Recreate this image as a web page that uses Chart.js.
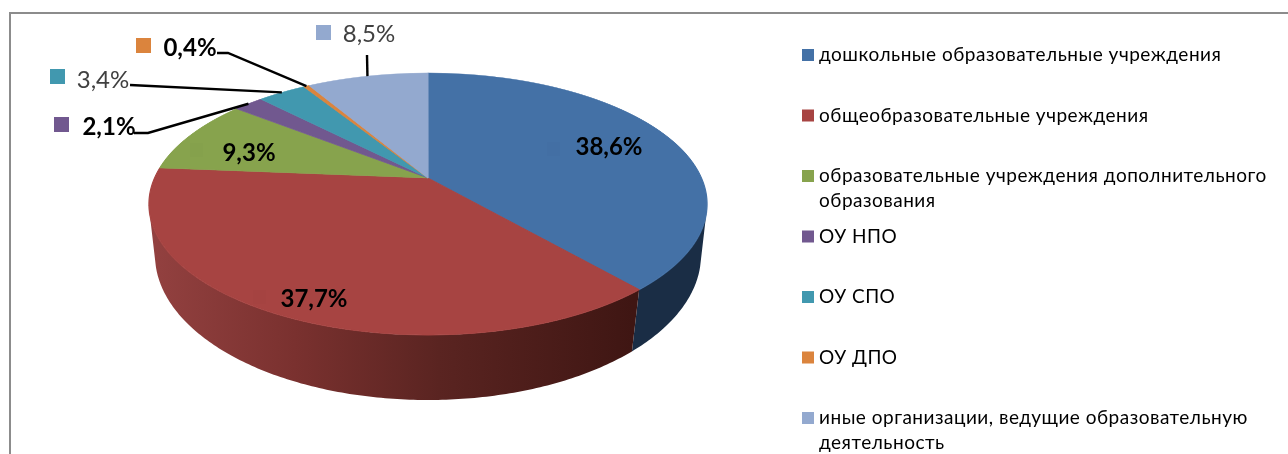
<!DOCTYPE html>
<html lang="ru">
<head>
    <meta charset="UTF-8">
    <title>Образовательные учреждения</title>
    <script src="https://cdn.jsdelivr.net/npm/chart.js"></script>
    <style>
        body { margin: 0; background: #fff; overflow: hidden; }
        #wrap { position: relative; width: 1288px; height: 454px; overflow: hidden; }
        #frame { position: absolute; left: 9px; top: 12px; width: 1400px; height: 600px; border: 2px solid #8c8c8c; }
        canvas { position: absolute; left: 0; top: 0; filter: blur(0.4px); }
    </style>
</head>
<body>
<div id="wrap">
    <div id="frame"></div>
    <canvas id="pie" width="1288" height="454"></canvas>
</div>
<script>
const categories = [
    'дошкольные образовательные учреждения',
    'общеобразовательные учреждения',
    'образовательные учреждения дополнительного образования',
    'ОУ НПО',
    'ОУ СПО',
    'ОУ ДПО',
    'иные организации, ведущие образовательную деятельность'
];
const shares = [38.6, 37.7, 9.3, 2.1, 3.4, 0.4, 8.5];
const colors = ['#4471a6', '#a74442', '#87a34d', '#71588f', '#4198af', '#db843d', '#93a9cf'];

// top face and floor of the pie: circles seen in perspective
function makePlane(apexY, back, front, halfWidth) {
    const p = (front - back) / (front + back);
    return { cx: 428, apexY, back, front, p, m: back * (1 + p), k: halfWidth * Math.sqrt(1 - p * p) };
}
const topPlane = makePlane(178, 105, 157, 279);
const floorPlane = makePlane(229, 119, 171, 273);

// where each value label goes, by slice index
const FONT = 'Lato, "Open Sans", sans-serif';
const labelPlaces = [
    { x: 609, y: 147, bold: true, ghost: [547, 142] },
    { x: 314, y: 299, bold: true, ghost: [253, 290] },
    { x: 249, y: 153, bold: true, ghost: [190, 143] },
    { x: 109, y: 127, bold: true, swatch: [54, 117], line: [[134, 133], [148, 133]] },
    { x: 103, y: 80, swatch: [50, 69], line: [[130, 85]] },
    { x: 190, y: 48, bold: true, swatch: [136, 38], line: [[217, 53], [228, 53]] },
    { x: 369, y: 34, swatch: [316, 25], line: [[367, 55]] }
];

function project(angle, plane) {
    // chart.js angles start at -PI/2 for the first slice
    const u = Math.cos(angle), v = -Math.sin(angle);
    const w = 1 + plane.p * v;
    return { x: plane.cx + plane.k * u / w, y: plane.apexY - plane.m * v / w };
}

function drawWalls(ctx, arcs) {
    const redStops = [[0, '#934140'], [0.3, '#7a312f'], [0.6, '#5a2421'], [1, '#3f1613']];
    arcs.forEach((arc, i) => {
        const steps = Math.max(4, Math.ceil((arc.endAngle - arc.startAngle) * 80));
        const top = [], bottom = [];
        for (let s = 0; s < steps; s++) {
            const a0 = arc.startAngle + (arc.endAngle - arc.startAngle) * s / steps;
            const a1 = arc.startAngle + (arc.endAngle - arc.startAngle) * (s + 1) / steps;
            const t0 = project(a0, topPlane), t1 = project(a1, topPlane);
            const b0 = project(a0, floorPlane), b1 = project(a1, floorPlane);
            // only the part of the wall that faces the viewer
            if ((t1.x - t0.x) * (b0.y - t0.y) - (t1.y - t0.y) * (b0.x - t0.x) < 0) {
                if (!top.length) { top.push(t0); bottom.push(b0); }
                top.push(t1);
                bottom.push(b1);
            }
        }
        if (!top.length) return;
        let fill = '#1a2d45';
        if (i === 1) {
            fill = ctx.createLinearGradient(150, 0, 632, 0);
            redStops.forEach(s => fill.addColorStop(s[0], s[1]));
        }
        ctx.beginPath();
        top.forEach((pt, n) => n ? ctx.lineTo(pt.x, pt.y) : ctx.moveTo(pt.x, pt.y));
        bottom.reverse().forEach(pt => ctx.lineTo(pt.x, pt.y));
        ctx.closePath();
        ctx.fillStyle = fill;
        ctx.fill();
    });
}

// draws the library's arcs one pixel row at a time, through the perspective
function drawTop(ctx, arcs) {
    const { apexY, back, front, p, m, k, cx } = topPlane;
    for (let row = apexY - back - 1; row < apexY + front + 1; row++) {
        const Y = row + 0.5 - apexY;
        const v = -Y / (m + p * Y);
        const w = 1 + p * v;
        arcs.forEach(arc => {
            const R = arc.outerRadius;
            const a = k / (R * w);
            const d = m / (R * w * w);
            ctx.save();
            ctx.beginPath();
            ctx.rect(0, row, 1288, 1);
            ctx.clip();
            ctx.setTransform(a, 0, 0, d, cx - a * arc.x, row + 0.5 - d * (arc.y - R * v));
            arc.draw(ctx);
            ctx.restore();
        });
    }
}

function drawValueLabels(ctx, arcs) {
    ctx.textAlign = 'center';
    ctx.textBaseline = 'middle';
    labelPlaces.forEach((place, i) => {
        if (place.ghost) {
            ctx.fillStyle = 'rgba(0, 0, 0, 0.012)';
            ctx.fillRect(place.ghost[0], place.ghost[1], 13, 14);
        }
        if (place.swatch) {
            ctx.fillStyle = colors[i];
            ctx.fillRect(place.swatch[0], place.swatch[1], 15, 15);
        }
        if (place.line) {
            const mid = (arcs[i].startAngle + arcs[i].endAngle) / 2;
            const end = project(mid, topPlane);
            ctx.beginPath();
            place.line.forEach((pt, n) => n ? ctx.lineTo(pt[0], pt[1]) : ctx.moveTo(pt[0], pt[1]));
            ctx.lineTo(end.x, end.y);
            ctx.strokeStyle = '#000';
            ctx.lineWidth = 2.4;
            ctx.stroke();
        }
        ctx.font = (place.bold ? 'bold ' : '') + '24px ' + FONT;
        ctx.fillStyle = place.bold ? '#000' : '#404040';
        ctx.fillText(String(shares[i]).replace('.', ',') + '%', place.x, place.y);
    });
}

function drawLegend(ctx) {
    ctx.textAlign = 'left';
    ctx.textBaseline = 'middle';
    ctx.font = '19px ' + FONT;
    ctx.letterSpacing = '0.5px';
    categories.forEach((name, i) => {
        const y = 55 + i * 60.5;
        ctx.fillStyle = colors[i];
        ctx.fillRect(802, y - 6, 12, 12);
        ctx.fillStyle = '#000';
        let line = '', lineY = y;
        name.split(' ').forEach(word => {
            const next = line ? line + ' ' + word : word;
            if (ctx.measureText(next).width > 455 && line) {
                ctx.fillText(line, 819, lineY);
                line = word;
                lineY += 24.5;
            } else {
                line = next;
            }
        });
        ctx.fillText(line, 819, lineY);
    });
    ctx.letterSpacing = '0px';
}

const pie3d = {
    id: 'pie3d',
    beforeDatasetsDraw(chart) {
        const ctx = chart.ctx;
        const arcs = chart.getDatasetMeta(0).data;
        drawWalls(ctx, arcs);
        drawTop(ctx, arcs);
        drawValueLabels(ctx, arcs);
        drawLegend(ctx);
        return false;
    }
};

new Chart(document.getElementById('pie').getContext('2d'), {
    type: 'pie',
    data: {
        labels: categories,
        datasets: [{ data: shares, backgroundColor: colors, borderColor: colors, borderWidth: 1 }]
    },
    options: {
        responsive: false,
        animation: false,
        plugins: { legend: { display: false }, tooltip: { enabled: false } }
    },
    plugins: [pie3d]
});
</script>
</body>
</html>
